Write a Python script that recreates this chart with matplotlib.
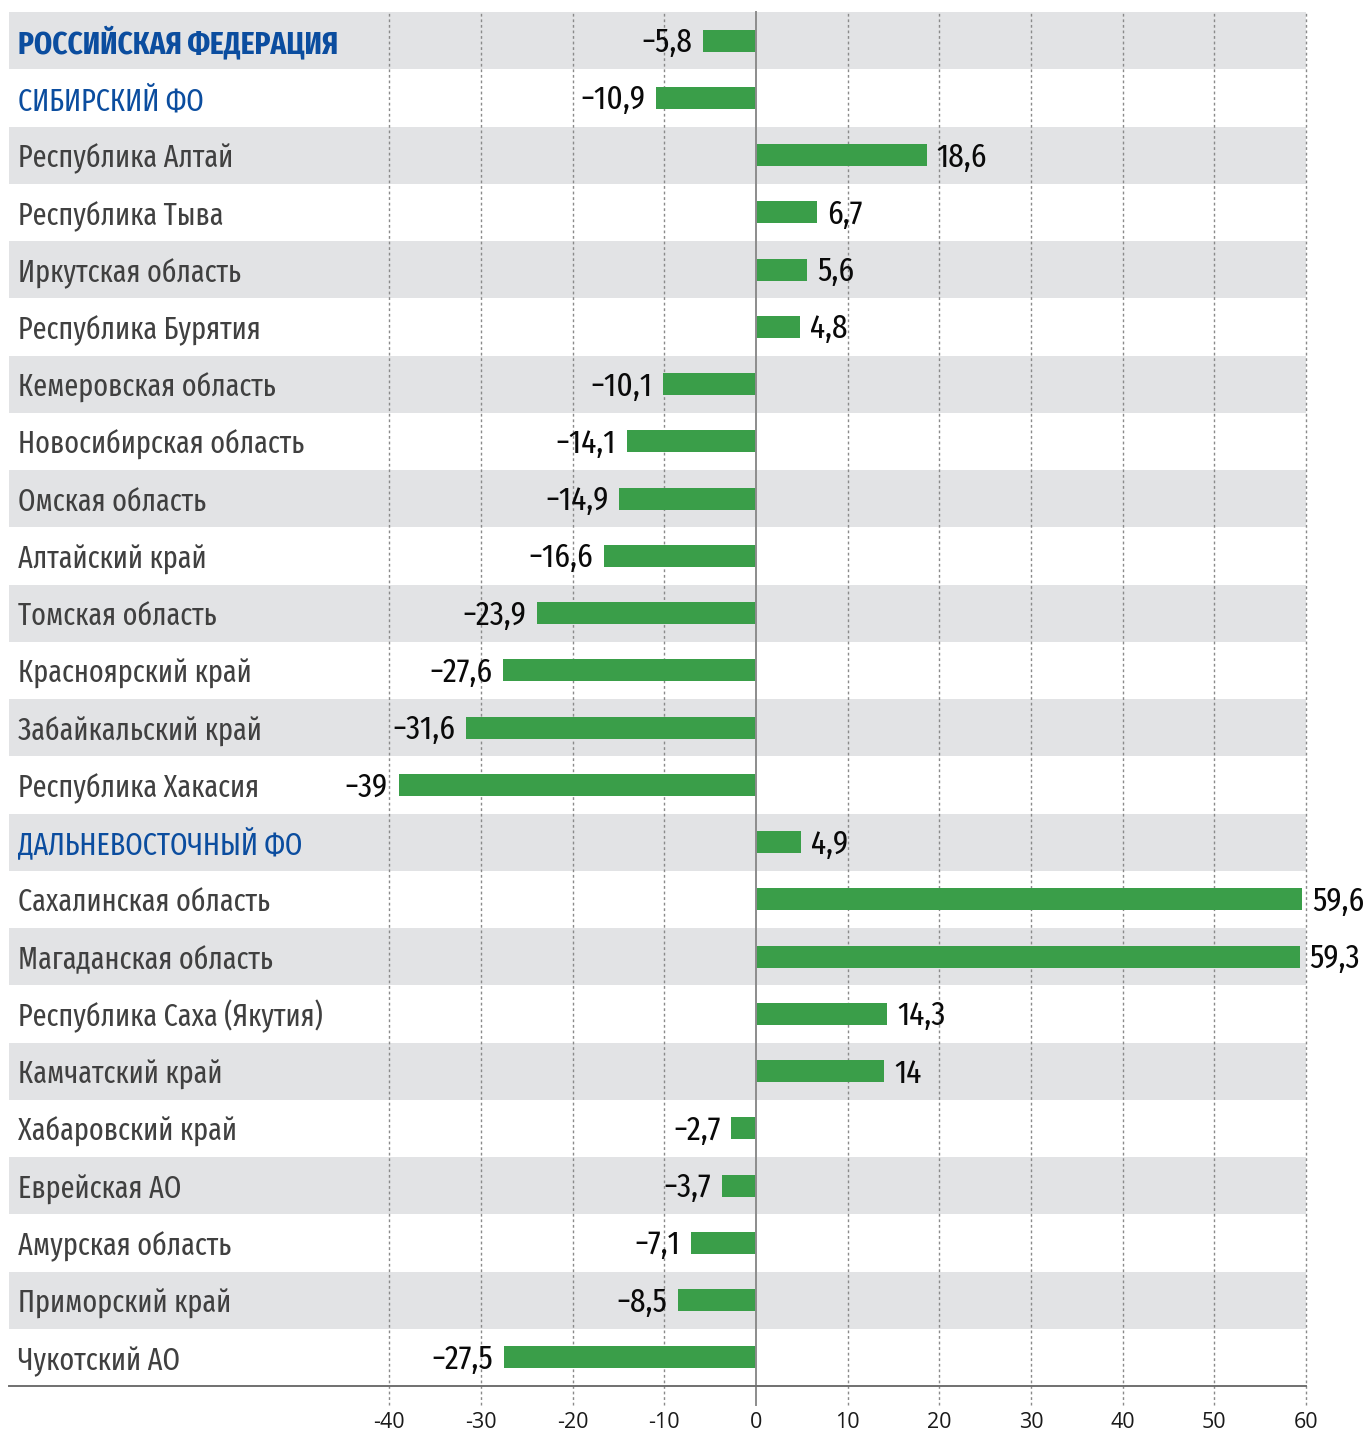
import matplotlib
matplotlib.use("Agg")
import matplotlib.pyplot as plt
from matplotlib.transforms import blended_transform_factory, offset_copy

# ---- data ----
regions = [
    "РОССИЙСКАЯ ФЕДЕРАЦИЯ",
    "СИБИРСКИЙ ФО",
    "Республика Алтай",
    "Республика Тыва",
    "Иркутская область",
    "Республика Бурятия",
    "Кемеровская область",
    "Новосибирская область",
    "Омская область",
    "Алтайский край",
    "Томская область",
    "Красноярский край",
    "Забайкальский край",
    "Республика Хакасия",
    "ДАЛЬНЕВОСТОЧНЫЙ ФО",
    "Сахалинская область",
    "Магаданская область",
    "Республика Саха (Якутия)",
    "Камчатский край",
    "Хабаровский край",
    "Еврейская АО",
    "Амурская область",
    "Приморский край",
    "Чукотский АО",
]
values = [-5.8, -10.9, 18.6, 6.7, 5.6, 4.8, -10.1, -14.1, -14.9, -16.6, -23.9,
          -27.6, -31.6, -39, 4.9, 59.6, 59.3, 14.3, 14, -2.7, -3.7, -7.1, -8.5, -27.5]
value_labels = ["−5,8", "−10,9", "18,6", "6,7", "5,6", "4,8", "−10,1", "−14,1",
                "−14,9", "−16,6", "−23,9", "−27,6", "−31,6", "−39", "4,9", "59,6",
                "59,3", "14,3", "14", "−2,7", "−3,7", "−7,1", "−8,5", "−27,5"]
headings = ["РОССИЙСКАЯ ФЕДЕРАЦИЯ", "СИБИРСКИЙ ФО", "ДАЛЬНЕВОСТОЧНЫЙ ФО"]
bold_headings = ["РОССИЙСКАЯ ФЕДЕРАЦИЯ"]
xticks = [-40, -30, -20, -10, 0, 10, 20, 30, 40, 50, 60]

# ---- style ----
COND = ["Fira Sans Extra Condensed", "Roboto Condensed", "DejaVu Sans"]
TICKF = ["Open Sans", "DejaVu Sans"]
GREEN = "#3a9e49"
BAND = "#e2e3e5"
BLUE = "#0b4d9f"
GRID = "#8a8a8a"

W, H = 1365, 1432
fig = plt.figure(figsize=(W / 100, H / 100), dpi=100)
ax = fig.add_axes([9 / W, 1 - 1386 / H, (1306 - 9) / W, (1386 - 12) / H])

n = len(regions)
ys = list(range(n))
ax.set_xlim(-81.5, 60)
ax.set_ylim(n - 0.5, -0.5)

for i in ys:
    if i % 2 == 0:
        ax.axhspan(i - 0.5, i + 0.5, color=BAND, lw=0, zorder=0)

for x in xticks:
    if x == 0:
        ax.axvline(0, ymin=-0.0138, ymax=1, color="#8c8c8c", lw=1.4, zorder=3, clip_on=False)
    else:
        ax.axvline(x, ymin=-0.0138, ymax=1, color=GRID, lw=1.0, ls=(0, (2, 2)), zorder=1, clip_on=False)

ax.barh(ys, values, height=0.38, color=GREEN, zorder=2)

ax.axhline(n - 0.5, color="#707070", lw=1.4, zorder=4, clip_on=False)

trans_lbl = blended_transform_factory(ax.transAxes, ax.transData)
for y, name in zip(ys, regions):
    if name in headings:
        bold = name in bold_headings
        ax.text(0.0069, y + 0.22, name, transform=trans_lbl, va="baseline", ha="left",
                fontsize=22.8 if bold else 22, color=BLUE, family=COND,
                fontweight="bold" if bold else "normal")
    else:
        ax.text(0.0069, y + 0.22, name, transform=trans_lbl, va="baseline", ha="left",
                fontsize=22, color="#404040", family=COND)

for y, v, lab in zip(ys, values, value_labels):
    if v >= 0:
        t = offset_copy(ax.transData, fig=fig, x=7.2, y=0, units="points")
        ax.text(v, y + 0.203, lab, transform=t, ha="left", va="baseline", fontsize=24.5,
                color="#0a0a0a", family=COND, zorder=5)
    else:
        t = offset_copy(ax.transData, fig=fig, x=-7.9, y=0, units="points")
        ax.text(v, y + 0.203, lab, transform=t, ha="right", va="baseline", fontsize=24.5,
                color="#0a0a0a", family=COND, zorder=5)

ax.set_xticks(xticks)
ax.set_xticklabels([str(x) for x in xticks], family=TICKF, fontsize=15.5, color="#1a1a1a")
ax.tick_params(axis="x", length=0, pad=19)
ax.set_yticks([])
for s in ax.spines.values():
    s.set_visible(False)

fig.savefig("out.png", dpi=100)
